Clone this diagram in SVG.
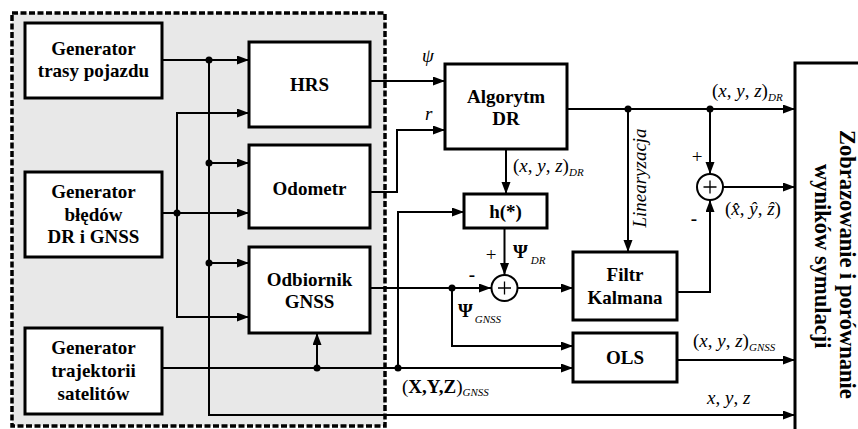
<svg xmlns="http://www.w3.org/2000/svg" width="858" height="429" viewBox="0 0 858 429">
<defs>
<marker id="arr" markerUnits="userSpaceOnUse" markerWidth="12" markerHeight="10" refX="12" refY="4.5" orient="auto">
<path d="M0,0 L12,4.5 L0,9 z" fill="#000"/>
</marker>
<style>
.box{fill:#fff;stroke:#000;stroke-width:3}
.ln{fill:none;stroke:#000;stroke-width:2}
.ar{fill:none;stroke:#000;stroke-width:2;marker-end:url(#arr)}
.dot{fill:#000}
.lbl{font-family:"Liberation Serif","Times New Roman","DejaVu Serif",serif;font-weight:bold;font-size:19px;text-anchor:middle;fill:#000}
.m{font-family:"Liberation Serif","Times New Roman","DejaVu Serif",serif;font-size:19px;fill:#000}
.i{font-style:italic}
.sub{font-family:"Liberation Serif","Times New Roman","DejaVu Serif",serif;font-style:italic;font-size:11px}
.sg{font-family:"Liberation Serif","Times New Roman","DejaVu Serif",serif;font-size:19px;text-anchor:middle;fill:#000}
</style>
</defs>
<rect width="858" height="429" fill="#fff"/>
<rect id="sim-group" x="12" y="13" width="373" height="413" fill="#e8e8e8" stroke="#000" stroke-width="3.5" stroke-dasharray="6 2.5"/>

<g id="connectors">
<path class="ar" d="M162,60 H249"/>
<path class="ar" d="M209,60 V415 H795"/>
<path class="ar" d="M209,163 H249"/>
<path class="ar" d="M209,263 H249"/>
<path class="ar" d="M162,213 H249"/>
<path class="ar" d="M177,213 V113 H249"/>
<path class="ar" d="M177,213 V317 H249"/>
<path class="ar" d="M370,81 H445"/>
<path class="ar" d="M370,192 H397 V130 H445"/>
<path class="ar" d="M370,288 H491"/>
<path class="ar" d="M452,288 V346 H573"/>
<path class="ar" d="M162,368 H573"/>
<path class="ar" d="M317,368 V333"/>
<path class="ar" d="M398,368 V212 H464"/>
<path class="ar" d="M506,149 V194"/>
<path class="ar" d="M504.5,228 V275"/>
<path class="ar" d="M518,288 H573"/>
<path class="ar" d="M567,109 H795"/>
<path class="ar" d="M628,109 V252"/>
<path class="ar" d="M710,109 V174"/>
<path class="ar" d="M677,292 H710 V200"/>
<path class="ar" d="M723,187 H795"/>
<path class="ar" d="M677,360 H795"/>
<circle class="dot" cx="209" cy="60" r="3.5"/>
<circle class="dot" cx="209" cy="163" r="3.5"/>
<circle class="dot" cx="209" cy="263" r="3.5"/>
<circle class="dot" cx="177" cy="213" r="3.5"/>
<circle class="dot" cx="317" cy="368" r="3.5"/>
<circle class="dot" cx="398" cy="368" r="3.5"/>
<circle class="dot" cx="452" cy="288" r="3.5"/>
<circle class="dot" cx="628" cy="109" r="3.5"/>
<circle class="dot" cx="710" cy="109" r="3.5"/>
</g>

<g id="gen-trasy"><rect class="box" x="25" y="23" width="137" height="75"/>
<text class="lbl" x="93.5" y="55">Generator</text><text class="lbl" x="93.5" y="77">trasy pojazdu</text></g>
<g id="gen-bledow"><rect class="box" x="25" y="172" width="137" height="85"/>
<text class="lbl" x="93.5" y="198">Generator</text><text class="lbl" x="93.5" y="220.5">błędów</text><text class="lbl" x="93.5" y="243">DR i GNSS</text></g>
<g id="gen-traj"><rect class="box" x="25" y="328" width="137" height="86"/>
<text class="lbl" x="93.5" y="354">Generator</text><text class="lbl" x="93.5" y="377">trajektorii</text><text class="lbl" x="93.5" y="400">satelitów</text></g>
<g id="hrs"><rect class="box" x="249" y="42" width="121" height="85"/>
<text class="lbl" x="309.5" y="91">HRS</text></g>
<g id="odometr"><rect class="box" x="249" y="145" width="121" height="83"/>
<text class="lbl" x="309.5" y="195">Odometr</text></g>
<g id="odbiornik"><rect class="box" x="249" y="247" width="121" height="86"/>
<text class="lbl" x="309.5" y="286">Odbiornik</text><text class="lbl" x="309.5" y="308">GNSS</text></g>
<g id="algorytm"><rect class="box" x="445" y="64" width="122" height="85"/>
<text class="lbl" x="506" y="103">Algorytm</text><text class="lbl" x="506" y="125">DR</text></g>
<g id="h"><rect class="box" x="464" y="194" width="83" height="34"/>
<text class="lbl" x="505.5" y="218">h(*)</text></g>
<g id="kalman"><rect class="box" x="573" y="252" width="104" height="68"/>
<text class="lbl" x="625" y="281">Filtr</text><text class="lbl" x="625" y="304">Kalmana</text></g>
<g id="ols"><rect class="box" x="573" y="333" width="104" height="49"/>
<text class="lbl" x="625" y="364">OLS</text></g>
<g id="sum1"><circle cx="504.5" cy="288" r="13" fill="#fff" stroke="#000" stroke-width="2"/>
<path d="M498,288 H511 M504.5,281.5 V294.5" stroke="#000" stroke-width="1.3"/></g>
<g id="sum2"><circle cx="710" cy="187" r="13" fill="#fff" stroke="#000" stroke-width="2"/>
<path d="M703.5,187 H716.5 M710,180.5 V193.5" stroke="#000" stroke-width="1.3"/></g>
<g id="display"><rect class="box" x="795" y="63" width="80" height="380"/>
<text class="lbl" style="text-anchor:start;font-size:22.5px" transform="translate(839.5,130) rotate(90)">Zobrazowanie i porównanie</text>
<text class="lbl" style="text-anchor:start;font-size:22.5px" transform="translate(815,164) rotate(90)">wyników symulacji</text></g>

<g id="labels">
<text class="m i" x="422" y="62" font-size="20">ψ</text>
<text class="m i" x="425" y="120" font-size="20">r</text>
<text class="m" x="712" y="97">(<tspan class="i">x</tspan>, <tspan class="i">y</tspan>, <tspan class="i">z</tspan>)<tspan class="sub" dy="4">DR</tspan></text>
<text class="m" x="513" y="172">(<tspan class="i">x</tspan>, <tspan class="i">y</tspan>, <tspan class="i">z</tspan>)<tspan class="sub" dy="4">DR</tspan></text>
<text class="m" x="725" y="215">(<tspan class="i">x̂</tspan>, <tspan class="i">ŷ</tspan>, <tspan class="i">ẑ</tspan>)</text>
<text class="m" x="693" y="347">(<tspan class="i">x</tspan>, <tspan class="i">y</tspan>, <tspan class="i">z</tspan>)<tspan class="sub" dy="4">GNSS</tspan></text>
<text class="m" x="707" y="404"><tspan class="i">x</tspan>, <tspan class="i">y</tspan>, <tspan class="i">z</tspan></text>
<text class="m" x="402" y="393">(<tspan font-weight="bold">X,Y,Z</tspan>)<tspan class="sub" dy="3">GNSS</tspan></text>
<text class="m" x="513" y="258" font-weight="bold">Ψ<tspan class="sub" dx="3" dy="6" font-weight="normal">DR</tspan></text>
<text class="m" x="458" y="317" font-weight="bold">Ψ<tspan class="sub" dx="2" dy="6" font-weight="normal">GNSS</tspan></text>
<text class="m i" font-size="16" text-anchor="middle" transform="translate(646,178) rotate(-90)">Linearyzacja</text>
<text class="sg" x="491" y="261">+</text>
<text class="sg" x="472" y="281" font-weight="bold">-</text>
<text class="sg" x="697" y="163">+</text>
<text class="sg" x="694" y="225" font-weight="bold">-</text>
</g>
</svg>
